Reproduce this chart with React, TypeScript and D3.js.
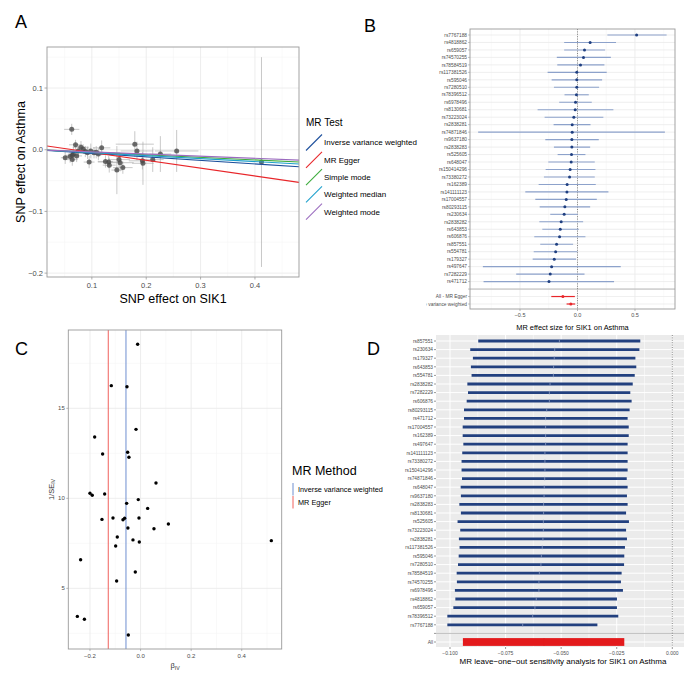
import React from 'react';
import * as d3 from 'd3';

const FONT = '"Liberation Sans", Arial, Helvetica, sans-serif';
const GRID_MAJOR = '#ebebeb';
const GRID_MINOR = '#f5f5f5';
const BORDER = '#9a9a9a';
const TICK_TEXT = '#4d4d4d';

// ---------- Panel A: SNP effects on exposure vs outcome ----------
const snpBx = [0.063, 0.051, 0.064, 0.064, 0.066, 0.070, 0.080, 0.084, 0.092, 0.098, 0.095, 0.104, 0.112, 0.118, 0.131, 0.132, 0.146, 0.150, 0.152, 0.157, 0.179, 0.183, 0.193, 0.194, 0.212, 0.226, 0.256, 0.412, 0.075, 0.088, 0.072, 0.108, 0.060, 0.125];
const snpBy = [0.033, -0.013, -0.009, -0.016, -0.007, 0.008, 0.004, 0.001, -0.005, -0.002, -0.020, -0.005, -0.007, 0.003, -0.020, -0.025, -0.033, -0.016, -0.021, -0.029, 0.009, -0.002, -0.018, -0.022, -0.016, -0.007, -0.002, -0.020, -0.002, -0.003, -0.010, -0.004, -0.011, -0.019];
const snpSeX = [0.014, 0.008, 0.012, 0.010, 0.010, 0.012, 0.015, 0.012, 0.014, 0.016, 0.010, 0.015, 0.012, 0.016, 0.020, 0.012, 0.010, 0.020, 0.025, 0.018, 0.035, 0.030, 0.025, 0.020, 0.020, 0.020, 0.040, 0.004, 0.010, 0.012, 0.010, 0.012, 0.008, 0.014];
const snpSeY = [0.009, 0.010, 0.008, 0.010, 0.012, 0.008, 0.010, 0.008, 0.010, 0.012, 0.010, 0.009, 0.010, 0.012, 0.010, 0.012, 0.039, 0.012, 0.014, 0.010, 0.021, 0.015, 0.014, 0.035, 0.020, 0.029, 0.034, 0.170, 0.010, 0.009, 0.010, 0.010, 0.010, 0.010];

const mrMethods = ['Inverse variance weighted', 'MR Egger', 'Simple mode', 'Weighted median', 'Weighted mode'];
const mrSlopes = [-0.0574, -0.127, -0.0415, -0.048, -0.035];
const mrIntercepts = [0, 0.0082, 0, 0, 0];
const mrColors = ['#1c4f9c', '#e8262a', '#3cab3c', '#1ca0cc', '#9b6bbf'];

// ---------- Panel B: single-SNP forest plot ----------
const forestSnps = ['rs7767188', 'rs4818862', 'rs659057', 'rs74570255', 'rs78584519', 'rs117381526', 'rs595046', 'rs7280510', 'rs78396512', 'rs6978496', 'rs8130681', 'rs73223024', 'rs2838281', 'rs74871846', 'rs9637180', 'rs2838283', 'rs525605', 'rs648047', 'rs150414296', 'rs73380272', 'rs162389', 'rs141111123', 'rs17004557', 'rs80293115', 'rs230634', 'rs2838282', 'rs643853', 'rs606876', 'rs857551', 'rs554781', 'rs179327', 'rs497647', 'rs7282229', 'rs471712'];
const forestBeta = [0.514, 0.110, 0.061, 0.052, 0.026, -0.006, -0.006, -0.006, -0.009, -0.017, -0.020, -0.032, -0.046, -0.046, -0.049, -0.049, -0.052, -0.055, -0.064, -0.069, -0.090, -0.092, -0.098, -0.110, -0.116, -0.142, -0.150, -0.156, -0.182, -0.190, -0.202, -0.225, -0.237, -0.248];
const forestLo = [0.26, -0.116, -0.116, -0.18, -0.176, -0.26, -0.225, -0.205, -0.113, -0.159, -0.347, -0.286, -0.208, -0.864, -0.28, -0.205, -0.173, -0.254, -0.277, -0.292, -0.338, -0.454, -0.367, -0.329, -0.237, -0.332, -0.306, -0.376, -0.324, -0.381, -0.39, -0.823, -0.533, -0.817];
const forestHi = [0.775, 0.335, 0.24, 0.29, 0.234, 0.254, 0.214, 0.188, 0.098, 0.124, 0.312, 0.225, 0.113, 0.76, 0.185, 0.11, 0.069, 0.15, 0.156, 0.15, 0.159, 0.269, 0.168, 0.11, 0.003, 0.049, 0.012, 0.069, -0.038, 0.0, -0.012, 0.376, 0.061, 0.318];
const forestSummaryLabels = ['All - MR Egger', 'All - Inverse variance weighted'];
const forestSummaryBeta = [-0.127, -0.058];
const forestSummaryLo = [-0.228, -0.095];
const forestSummaryHi = [-0.023, -0.020];

// ---------- Panel C: funnel plot ----------
const funnelBeta = [-0.0115, -0.1156, -0.0537, -0.018, -0.1815, -0.150, -0.051, -0.046, 0.061, -0.200, -0.191, -0.142, -0.055, -0.009, 0.028, -0.1526, -0.109, -0.0695, -0.063, -0.0063, -0.050, 0.053, 0.110, -0.092, -0.0985, -0.030, -0.005, 0.517, -0.237, -0.0208, -0.0946, -0.250, -0.222, -0.0484];
const funnelInvSe = [18.56, 16.26, 16.2, 13.83, 13.41, 12.46, 12.56, 12.28, 10.85, 10.28, 10.17, 10.24, 9.72, 9.93, 9.44, 8.83, 8.91, 8.81, 8.89, 8.91, 8.35, 8.31, 8.57, 7.85, 7.35, 7.69, 7.57, 7.65, 6.59, 5.91, 5.41, 3.44, 3.28, 2.41];
const funnelMethods = ['Inverse variance weighted', 'MR Egger'];
const funnelEstimates = [-0.0577, -0.1277];
const funnelColors = ['#6f8fd0', '#f0605c'];

// ---------- Panel D: leave-one-out ----------
const looSnps = ['rs857551', 'rs230634', 'rs179327', 'rs643853', 'rs554781', 'rs2838282', 'rs7282229', 'rs606876', 'rs80293115', 'rs471712', 'rs17004557', 'rs162389', 'rs497647', 'rs141111123', 'rs73380272', 'rs150414296', 'rs74871846', 'rs648047', 'rs9637180', 'rs2838283', 'rs8130681', 'rs525605', 'rs73223024', 'rs2838281', 'rs117381526', 'rs595046', 'rs7280510', 'rs78584519', 'rs74570255', 'rs6978496', 'rs4818862', 'rs659057', 'rs78396512', 'rs7767188'];
const looEst = [-0.0508, -0.0529, -0.0531, -0.0534, -0.0535, -0.0550, -0.0553, -0.0553, -0.0565, -0.0570, -0.0570, -0.0570, -0.0570, -0.0573, -0.0573, -0.0573, -0.0574, -0.0576, -0.0577, -0.0579, -0.0579, -0.0580, -0.0580, -0.0582, -0.0585, -0.0589, -0.0591, -0.0598, -0.0600, -0.0600, -0.0612, -0.0618, -0.0628, -0.0673];
const looLo = [-0.0873, -0.0909, -0.0897, -0.0906, -0.0903, -0.0922, -0.0919, -0.0925, -0.0937, -0.0937, -0.0943, -0.0943, -0.0940, -0.0945, -0.0948, -0.0948, -0.0946, -0.0952, -0.0951, -0.0958, -0.0951, -0.0966, -0.0954, -0.0960, -0.0957, -0.0961, -0.0964, -0.0970, -0.0969, -0.0978, -0.0976, -0.0985, -0.1012, -0.1012];
const looHi = [-0.0144, -0.0148, -0.0166, -0.0162, -0.0169, -0.0178, -0.0189, -0.0183, -0.0192, -0.0201, -0.0196, -0.0196, -0.0201, -0.0201, -0.0201, -0.0201, -0.0205, -0.0201, -0.0204, -0.0201, -0.0208, -0.0195, -0.0208, -0.0204, -0.0213, -0.0216, -0.0217, -0.0228, -0.0231, -0.0222, -0.0249, -0.0249, -0.0243, -0.0337];
const looAllLabel = 'All';
const looAllEst = -0.0577;
const looAllLo = -0.0942;
const looAllHi = -0.0216;

const midpoints = (t: number[]) => {
  const step = t[1] - t[0];
  return [t[0] - step / 2, ...t.map((v) => v + step / 2)];
};

function Frame({ x, y, w, h }: { x: number; y: number; w: number; h: number }) {
  return <rect x={x} y={y} width={w} height={h} fill="none" stroke={BORDER} strokeWidth={0.9} />;
}

function PanelA() {
  const L = 47, R = 299, T = 47, B = 277;
  const x = d3.scaleLinear().domain([0.0175, 0.481]).range([L, R]);
  const y = d3.scaleLinear().domain([-0.2063, 0.1665]).range([B, T]);
  const xt = [0.1, 0.2, 0.3, 0.4];
  const yt = [-0.2, -0.1, 0.0, 0.1];
  const f = d3.format('.1f');
  const [d0, d1] = x.domain();
  return (
    <g>
      <text x={15} y={28} fontSize={18}>A</text>
      <clipPath id="clipA"><rect x={L} y={T} width={R - L} height={B - T} /></clipPath>
      {midpoints(xt).filter((v) => x(v) > L && x(v) < R).map((v) => (
        <line key={'xm' + v} x1={x(v)} x2={x(v)} y1={T} y2={B} stroke={GRID_MINOR} strokeWidth={0.6} />
      ))}
      {midpoints(yt).filter((v) => y(v) > T && y(v) < B).map((v) => (
        <line key={'ym' + v} x1={L} x2={R} y1={y(v)} y2={y(v)} stroke={GRID_MINOR} strokeWidth={0.6} />
      ))}
      {xt.map((v) => <line key={'xg' + v} x1={x(v)} x2={x(v)} y1={T} y2={B} stroke={GRID_MAJOR} strokeWidth={0.9} />)}
      {yt.map((v) => <line key={'yg' + v} x1={L} x2={R} y1={y(v)} y2={y(v)} stroke={GRID_MAJOR} strokeWidth={0.9} />)}
      <g clipPath="url(#clipA)">
        {snpBx.map((bx, i) => (
          <g key={'eb' + i} stroke="#9a9a9a" strokeOpacity={0.55} strokeWidth={1}>
            <line x1={x(bx - snpSeX[i])} x2={x(bx + snpSeX[i])} y1={y(snpBy[i])} y2={y(snpBy[i])} />
            <line x1={x(bx)} x2={x(bx)} y1={y(snpBy[i] - snpSeY[i])} y2={y(snpBy[i] + snpSeY[i])} />
          </g>
        ))}
        {snpBx.map((bx, i) => (
          <circle key={'pt' + i} cx={x(bx)} cy={y(snpBy[i])} r={2.5} fill="#4a4a4a" fillOpacity={0.8} />
        ))}
        {mrMethods.map((m, i) => (
          <line key={m} x1={x(d0)} x2={x(d1)} y1={y(mrIntercepts[i] + mrSlopes[i] * d0)} y2={y(mrIntercepts[i] + mrSlopes[i] * d1)} stroke={mrColors[i]} strokeWidth={1.1} />
        ))}
      </g>
      <Frame x={L} y={T} w={R - L} h={B - T} />
      {xt.map((v) => (
        <g key={'xt' + v}>
          <line x1={x(v)} x2={x(v)} y1={B} y2={B + 2.5} stroke={BORDER} strokeWidth={0.8} />
          <text x={x(v)} y={B + 11} fontSize={7.5} fill={TICK_TEXT} textAnchor="middle">{f(v)}</text>
        </g>
      ))}
      {yt.map((v) => (
        <g key={'yt' + v}>
          <line x1={L - 2.5} x2={L} y1={y(v)} y2={y(v)} stroke={BORDER} strokeWidth={0.8} />
          <text x={L - 4} y={y(v) + 2.7} fontSize={7.5} fill={TICK_TEXT} textAnchor="end">{f(v)}</text>
        </g>
      ))}
      <text x={(L + R) / 2} y={303} fontSize={12.5} textAnchor="middle">SNP effect on SIK1</text>
      <text transform={`translate(25,${(T + B) / 2}) rotate(-90)`} fontSize={12.5} textAnchor="middle">SNP effect on Asthma</text>
      {/* legend */}
      <text x={306} y={126} fontSize={10}>MR Test</text>
      {mrMethods.map((m, i) => {
        const cy = 142.5 + i * 17.3;
        return (
          <g key={'lg' + m}>
            <line x1={306} x2={322} y1={cy + 8} y2={cy - 8} stroke={mrColors[i]} strokeWidth={1.1} />
            <text x={324} y={cy + 2.8} fontSize={8}>{m}</text>
          </g>
        );
      })}
    </g>
  );
}

function PanelB() {
  const L = 470, R = 675, T = 29, B = 309;
  const cats = [...forestSnps, '', ...forestSummaryLabels];
  const y = d3.scalePoint<string>().domain(cats).range([35, 304]);
  const x = d3.scaleLinear().domain([-0.935, 0.848]).range([L, R]);
  const xt = [-0.5, 0.0, 0.5];
  const f = d3.format('.1f');
  return (
    <g>
      <text x={364} y={32} fontSize={18}>B</text>
      <clipPath id="clipB"><rect x={L} y={T} width={R - L} height={B - T} /></clipPath>
      <clipPath id="clipBLabels"><rect x={426.5} y={0} width={260} height={340} /></clipPath>
      {midpoints(xt).filter((v) => x(v) > L && x(v) < R).map((v) => (
        <line key={'xm' + v} x1={x(v)} x2={x(v)} y1={T} y2={B} stroke={GRID_MINOR} strokeWidth={0.6} />
      ))}
      {cats.map((c, i) => (
        <line key={'yg' + i} x1={L} x2={R} y1={y(c)!} y2={y(c)!} stroke={GRID_MAJOR} strokeWidth={0.8} />
      ))}
      {xt.map((v) => <line key={'xg' + v} x1={x(v)} x2={x(v)} y1={T} y2={B} stroke={GRID_MAJOR} strokeWidth={0.9} />)}
      <line x1={L} x2={R} y1={y('')!} y2={y('')!} stroke="#b3b3b3" strokeWidth={0.9} />
      <line x1={x(0)} x2={x(0)} y1={T} y2={B} stroke="#555" strokeWidth={0.7} strokeDasharray="1,1.4" />
      <g clipPath="url(#clipB)">
        {forestSnps.map((s, i) => (
          <g key={'f' + s}>
            <line x1={x(forestLo[i])} x2={x(forestHi[i])} y1={y(s)!} y2={y(s)!} stroke="#8da2cb" strokeWidth={1.1} />
            <circle cx={x(forestBeta[i])} cy={y(s)!} r={1.5} fill="#1f3f80" />
          </g>
        ))}
        {forestSummaryLabels.map((s, i) => (
          <g key={'fs' + s}>
            <line x1={x(forestSummaryLo[i])} x2={x(forestSummaryHi[i])} y1={y(s)!} y2={y(s)!} stroke="#e8262a" strokeWidth={1.2} />
            <circle cx={x(forestSummaryBeta[i])} cy={y(s)!} r={1.5} fill="#e8262a" />
          </g>
        ))}
      </g>
      <Frame x={L} y={T} w={R - L} h={B - T} />
      <g clipPath="url(#clipBLabels)">
        {cats.map((c, i) => (
          <g key={'yl' + i}>
            <line x1={L - 2} x2={L} y1={y(c)!} y2={y(c)!} stroke={BORDER} strokeWidth={0.6} />
            <text x={L - 3} y={y(c)! + 1.7} fontSize={4.8} fill={TICK_TEXT} textAnchor="end">{c}</text>
          </g>
        ))}
      </g>
      {xt.map((v) => (
        <g key={'xt' + v}>
          <line x1={x(v)} x2={x(v)} y1={B} y2={B + 2} stroke={BORDER} strokeWidth={0.7} />
          <text x={x(v)} y={B + 8} fontSize={5.5} fill={TICK_TEXT} textAnchor="middle">{f(v)}</text>
        </g>
      ))}
      <text x={(L + R) / 2} y={330} fontSize={7.4} textAnchor="middle">MR effect size for SIK1 on Asthma</text>
    </g>
  );
}

function PanelC() {
  const L = 68.3, R = 281.7, T = 330, B = 649;
  const x = d3.scaleLinear().domain([-0.2857, 0.558]).range([L, R]);
  const y = d3.scaleLinear().domain([1.63, 19.35]).range([B, T]);
  const xt = [-0.2, 0.0, 0.2, 0.4];
  const yt = [5, 10, 15];
  const f = d3.format('.1f');
  return (
    <g>
      <text x={15} y={355} fontSize={18}>C</text>
      {midpoints(xt).filter((v) => x(v) > L && x(v) < R).map((v) => (
        <line key={'xm' + v} x1={x(v)} x2={x(v)} y1={T} y2={B} stroke={GRID_MINOR} strokeWidth={0.6} />
      ))}
      {midpoints(yt).filter((v) => y(v) > T && y(v) < B).map((v) => (
        <line key={'ym' + v} x1={L} x2={R} y1={y(v)} y2={y(v)} stroke={GRID_MINOR} strokeWidth={0.6} />
      ))}
      {xt.map((v) => <line key={'xg' + v} x1={x(v)} x2={x(v)} y1={T} y2={B} stroke={GRID_MAJOR} strokeWidth={0.9} />)}
      {yt.map((v) => <line key={'yg' + v} x1={L} x2={R} y1={y(v)} y2={y(v)} stroke={GRID_MAJOR} strokeWidth={0.9} />)}
      {funnelMethods.map((m, i) => (
        <line key={m} x1={x(funnelEstimates[i])} x2={x(funnelEstimates[i])} y1={T} y2={B} stroke={funnelColors[i]} strokeWidth={1} />
      ))}
      {funnelBeta.map((b, i) => (
        <circle key={'c' + i} cx={x(b)} cy={y(funnelInvSe[i])} r={1.7} fill="#000" />
      ))}
      <Frame x={L} y={T} w={R - L} h={B - T} />
      {xt.map((v) => (
        <g key={'xt' + v}>
          <line x1={x(v)} x2={x(v)} y1={B} y2={B + 2} stroke={BORDER} strokeWidth={0.7} />
          <text x={x(v)} y={B + 8.5} fontSize={6} fill={TICK_TEXT} textAnchor="middle">{f(v)}</text>
        </g>
      ))}
      {yt.map((v) => (
        <g key={'yt' + v}>
          <line x1={L - 2} x2={L} y1={y(v)} y2={y(v)} stroke={BORDER} strokeWidth={0.7} />
          <text x={L - 3.5} y={y(v) + 2.1} fontSize={6} fill={TICK_TEXT} textAnchor="end">{v}</text>
        </g>
      ))}
      <text x={(L + R) / 2} y={668} fontSize={7.5} fill="#333" textAnchor="middle">
        β<tspan fontSize={5.2} dy={1.5}>IV</tspan>
      </text>
      <text transform={`translate(53.5,${(T + B) / 2}) rotate(-90)`} fontSize={7.5} fill="#333" textAnchor="middle">
        1/SE<tspan fontSize={5.2} dy={1.5}>IV</tspan>
      </text>
      {/* legend */}
      <text x={292} y={475} fontSize={12.5}>MR Method</text>
      {funnelMethods.map((m, i) => (
        <g key={'lg' + m}>
          <line x1={293} x2={293} y1={483 + i * 13} y2={495.5 + i * 13} stroke={funnelColors[i]} strokeWidth={1} />
          <text x={298} y={491.8 + i * 13} fontSize={7.3}>{m}</text>
        </g>
      ))}
    </g>
  );
}

function PanelD() {
  const L = 436, R = 684, T = 335, B = 647;
  const cats = [...looSnps, '', looAllLabel];
  const y = d3.scalePoint<string>().domain(cats).range([341, 642]);
  const x = d3.scaleLinear().domain([-0.1063, 0.00526]).range([L, R]);
  const xt = [-0.1, -0.075, -0.05, -0.025, 0];
  const f = d3.format('.3f');
  return (
    <g>
      <text x={367} y={355} fontSize={18}>D</text>
      <rect x={L} y={T} width={R - L} height={B - T} fill="#ebebeb" />
      {midpoints(xt).filter((v) => x(v) > L && x(v) < R).map((v) => (
        <line key={'xm' + v} x1={x(v)} x2={x(v)} y1={T} y2={B} stroke="#fff" strokeWidth={0.5} />
      ))}
      {xt.map((v) => <line key={'xg' + v} x1={x(v)} x2={x(v)} y1={T} y2={B} stroke="#fff" strokeWidth={1} />)}
      {cats.map((c, i) => (
        <line key={'yg' + i} x1={L} x2={R} y1={y(c)!} y2={y(c)!} stroke="#fff" strokeWidth={1} />
      ))}
      <line x1={L} x2={R} y1={y('')!} y2={y('')!} stroke="#bdbdbd" strokeWidth={1} />
      <line x1={x(0)} x2={x(0)} y1={T} y2={B} stroke="#555" strokeWidth={0.7} strokeDasharray="1,1.4" />
      {looSnps.map((s, i) => (
        <g key={'l' + s}>
          <line x1={x(looLo[i])} x2={x(looHi[i])} y1={y(s)!} y2={y(s)!} stroke="#22407f" strokeWidth={2.8} />
          <line x1={x(looEst[i])} x2={x(looEst[i])} y1={y(s)! - 1.8} y2={y(s)! + 1.8} stroke="#8b9bc0" strokeWidth={0.8} />
        </g>
      ))}
      <rect x={x(looAllLo)} y={y(looAllLabel)! - 3.9} width={x(looAllHi) - x(looAllLo)} height={7.8} fill="#e31a1c" />
      <line x1={x(looAllEst)} x2={x(looAllEst)} y1={y(looAllLabel)! - 3.9} y2={y(looAllLabel)! + 3.9} stroke="#e31a1c" strokeWidth={0.8} />
      {cats.map((c, i) => (
        <g key={'yl' + i}>
          <line x1={L - 2} x2={L} y1={y(c)!} y2={y(c)!} stroke="#333" strokeWidth={0.5} />
          <text x={L - 3} y={y(c)! + 1.7} fontSize={4.8} fill={TICK_TEXT} textAnchor="end">{c}</text>
        </g>
      ))}
      {xt.map((v) => (
        <g key={'xt' + v}>
          <line x1={x(v)} x2={x(v)} y1={B} y2={B + 2} stroke="#333" strokeWidth={0.5} />
          <text x={x(v)} y={B + 8} fontSize={5} fill={TICK_TEXT} textAnchor="middle">{f(v)}</text>
        </g>
      ))}
      <text x={563} y={664} fontSize={8} textAnchor="middle">MR leave−one−out sensitivity analysis for SIK1 on Asthma</text>
    </g>
  );
}

export default function App() {
  return (
    <svg width={686} height={678} style={{ position: 'absolute', left: 0, top: 0, background: '#fff' }} fontFamily={FONT}>
      <rect width={686} height={678} fill="#fff" />
      <PanelA />
      <PanelB />
      <PanelC />
      <PanelD />
    </svg>
  );
}
